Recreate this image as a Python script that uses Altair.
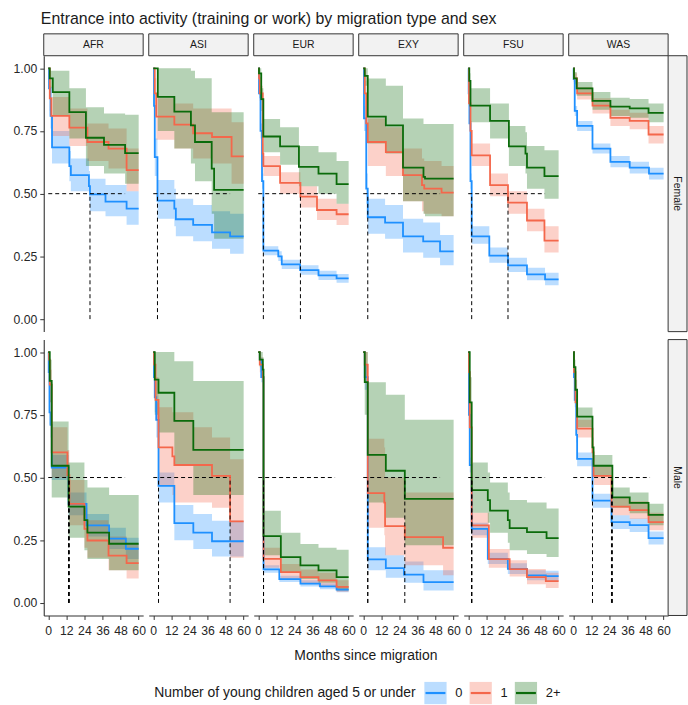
import altair as alt
import pandas as pd

FONT = "Liberation Sans"
TITLE = "Entrance into activity (training or work) by migration type and sex"
X_TITLE = "Months since migration"
LEGEND_TITLE = "Number of young children aged 5 or under"

REGIONS = ["AFR", "ASI", "EUR", "EXY", "FSU", "WAS"]
SEXES = ["Female", "Male"]
GROUPS = ["0", "1", "2+"]
GROUP_COLORS = ["#1E90FF", "#F4674B", "#0B6B0B"]
X_TICKS = [0, 12, 24, 36, 48, 60]
Y_TICKS = [0, 0.25, 0.5, 0.75, 1.0]

# Kaplan-Meier steps: (month, survival, lower CI, upper CI)
AFR_FEMALE = {
    "0": [(0, 1, 1, 1), (0.5, 0.92, 0.88, 0.96), (1.5, 0.81, 0.76, 0.86), (2.5, 0.685, 0.62, 0.75),
          (14, 0.61, 0.55, 0.67), (15, 0.574, 0.51, 0.64), (27, 0.53, 0.47, 0.59), (27.7, 0.497, 0.43, 0.56),
          (38, 0.468, 0.41, 0.535), (52, 0.44, 0.376, 0.51), (60, 0.44, 0.376, 0.51)],
    "1": [(0, 1, 1, 1), (1, 0.88, 0.83, 0.93), (2, 0.81, 0.73, 0.885), (14, 0.763, 0.69, 0.84),
          (26, 0.706, 0.63, 0.78), (40, 0.68, 0.6, 0.76), (52, 0.594, 0.51, 0.68), (60, 0.594, 0.51, 0.68)],
    "2+": [(0, 1, 1, 1), (1, 0.96, 0.92, 0.99), (3, 0.905, 0.81, 0.99), (14, 0.825, 0.72, 0.92),
           (25, 0.723, 0.61, 0.845), (37, 0.695, 0.58, 0.82), (51, 0.662, 0.54, 0.815), (60, 0.662, 0.54, 0.815)],
}
ASI_FEMALE = {
    "0": [(0, 1, 1, 1), (0.5, 0.85, 0.8, 0.9), (1, 0.646, 0.57, 0.72), (2.8, 0.472, 0.4, 0.555),
          (14, 0.44, 0.37, 0.52), (15, 0.398, 0.33, 0.48), (26.5, 0.376, 0.31, 0.455), (39, 0.346, 0.28, 0.43),
          (51, 0.33, 0.26, 0.42), (60, 0.33, 0.26, 0.42)],
    "1": [(0, 1, 1, 1), (1, 0.9, 0.84, 0.96), (2, 0.807, 0.715, 0.88), (14, 0.775, 0.68, 0.86),
          (26.5, 0.741, 0.64, 0.84), (39, 0.726, 0.62, 0.84), (52, 0.649, 0.54, 0.785), (60, 0.649, 0.54, 0.785)],
    "2+": [(0, 1, 1, 1), (3, 0.886, 0.75, 1.0), (14, 0.827, 0.68, 1.0), (25, 0.772, 0.62, 0.99),
           (27.7, 0.706, 0.55, 0.96), (38.8, 0.6, 0.42, 0.825), (40.4, 0.515, 0.32, 0.825), (60, 0.515, 0.32, 0.825)],
}
EUR_FEMALE = {
    "0": [(0, 1, 1, 1), (0.5, 0.9, 0.88, 0.92), (1.5, 0.75, 0.72, 0.78), (2.5, 0.55, 0.52, 0.58),
          (3.4, 0.273, 0.255, 0.29), (13.3, 0.25, 0.232, 0.27), (15.6, 0.218, 0.2, 0.237), (27.8, 0.195, 0.177, 0.215),
          (40, 0.174, 0.156, 0.193), (52, 0.162, 0.145, 0.18), (60, 0.162, 0.145, 0.18)],
    "1": [(0, 1, 1, 1), (0.5, 0.96, 0.94, 0.98), (1, 0.9, 0.87, 0.93), (3, 0.66, 0.62, 0.7),
          (3.4, 0.61, 0.57, 0.65), (14.5, 0.543, 0.5, 0.585), (28, 0.488, 0.445, 0.53), (39, 0.435, 0.395, 0.48),
          (52, 0.418, 0.375, 0.46), (60, 0.418, 0.375, 0.46)],
    "2+": [(0, 1, 1, 1), (0.5, 0.98, 0.96, 1.0), (2, 0.877, 0.83, 0.92), (3.4, 0.728, 0.665, 0.798),
           (14.5, 0.689, 0.615, 0.765), (27, 0.607, 0.53, 0.69), (40, 0.58, 0.5, 0.665), (52, 0.538, 0.46, 0.63),
           (60, 0.538, 0.46, 0.63)],
}
EXY_FEMALE = {
    "0": [(0, 1, 1, 1), (0.5, 0.8, 0.75, 0.85), (2, 0.52, 0.46, 0.58), (3, 0.406, 0.34, 0.48),
          (14.5, 0.385, 0.32, 0.455), (26.4, 0.33, 0.265, 0.4), (39.8, 0.31, 0.245, 0.385), (51, 0.27, 0.215, 0.335),
          (60, 0.27, 0.215, 0.335)],
    "1": [(0, 1, 1, 1), (1, 0.9, 0.85, 0.95), (2, 0.78, 0.7, 0.86), (3, 0.706, 0.61, 0.8),
          (15, 0.666, 0.57, 0.765), (26.4, 0.574, 0.47, 0.68), (39, 0.534, 0.43, 0.64), (40.5, 0.52, 0.42, 0.63),
          (52, 0.504, 0.41, 0.61), (60, 0.504, 0.41, 0.61)],
    "2+": [(0, 1, 1, 1), (1, 0.97, 0.93, 1.0), (3, 0.807, 0.7, 0.959), (15, 0.772, 0.66, 0.93),
           (26.4, 0.604, 0.47, 0.8), (40, 0.567, 0.42, 0.778), (41, 0.56, 0.41, 0.778), (60, 0.56, 0.41, 0.778)],
}
FSU_FEMALE = {
    "0": [(0, 1, 1, 1), (0.3, 0.9, 0.87, 0.93), (0.8, 0.78, 0.75, 0.81), (1.5, 0.55, 0.52, 0.58),
          (2.3, 0.33, 0.3, 0.37), (14, 0.253, 0.225, 0.285), (26.4, 0.214, 0.188, 0.245), (39, 0.178, 0.155, 0.205),
          (51, 0.158, 0.135, 0.185), (60, 0.158, 0.135, 0.185)],
    "1": [(0, 1, 1, 1), (0.5, 0.86, 0.82, 0.9), (1.5, 0.75, 0.71, 0.79), (2.3, 0.653, 0.61, 0.7),
          (14.5, 0.534, 0.49, 0.58), (26.4, 0.464, 0.42, 0.51), (39, 0.393, 0.35, 0.44), (50.6, 0.313, 0.265, 0.37),
          (60, 0.313, 0.265, 0.37)],
    "2+": [(0, 1, 1, 1), (0.7, 0.95, 0.92, 0.98), (1.5, 0.851, 0.785, 0.92), (14.5, 0.79, 0.72, 0.86),
           (27, 0.689, 0.61, 0.77), (38, 0.66, 0.58, 0.745), (39, 0.604, 0.52, 0.69), (50.6, 0.57, 0.48, 0.673),
           (60, 0.57, 0.48, 0.673)],
}
WAS_FEMALE = {
    "0": [(0, 1, 1, 1), (0.3, 0.957, 0.945, 0.97), (1, 0.83, 0.81, 0.85), (2.6, 0.77, 0.75, 0.79),
          (12.8, 0.68, 0.66, 0.7), (24.7, 0.627, 0.605, 0.65), (37.5, 0.604, 0.58, 0.627), (50.3, 0.58, 0.557, 0.603),
          (60, 0.58, 0.557, 0.603)],
    "1": [(0, 1, 1, 1), (0.5, 0.96, 0.94, 0.98), (2.6, 0.9, 0.875, 0.925), (12.8, 0.851, 0.82, 0.88),
          (24.7, 0.802, 0.77, 0.835), (37.5, 0.79, 0.757, 0.823), (50, 0.736, 0.7, 0.77), (60, 0.736, 0.7, 0.77)],
    "2+": [(0, 1, 1, 1), (0.5, 0.96, 0.935, 0.985), (2.3, 0.92, 0.89, 0.945), (12.8, 0.87, 0.835, 0.905),
           (24.7, 0.847, 0.81, 0.882), (37.5, 0.84, 0.803, 0.877), (50, 0.822, 0.785, 0.86), (60, 0.822, 0.785, 0.86)],
}
AFR_MALE = {
    "0": [(0, 1, 1, 1), (0.3, 0.92, 0.88, 0.96), (0.8, 0.76, 0.71, 0.81), (1.5, 0.71, 0.66, 0.76),
          (2.3, 0.54, 0.49, 0.59), (13.5, 0.395, 0.35, 0.44), (25.4, 0.309, 0.265, 0.355), (40.4, 0.256, 0.215, 0.3),
          (51.5, 0.216, 0.175, 0.26), (60, 0.216, 0.175, 0.26)],
    "1": [(0, 1, 1, 1), (0.5, 0.97, 0.93, 1.0), (1, 0.87, 0.8, 0.93), (2.3, 0.6, 0.5, 0.7),
          (12.7, 0.51, 0.41, 0.61), (14, 0.395, 0.31, 0.49), (24, 0.295, 0.22, 0.38), (26, 0.249, 0.18, 0.33),
          (40, 0.189, 0.13, 0.265), (52, 0.159, 0.097, 0.235), (60, 0.159, 0.097, 0.235)],
    "2+": [(0, 1, 1, 1), (1, 0.885, 0.8, 0.97), (2.3, 0.547, 0.42, 0.723), (13.5, 0.384, 0.26, 0.56),
           (24, 0.33, 0.21, 0.49), (26, 0.28, 0.175, 0.46), (40.4, 0.236, 0.13, 0.43), (60, 0.236, 0.13, 0.43)],
}
ASI_MALE = {
    "0": [(0, 1, 1, 1), (0.5, 0.9, 0.85, 0.95), (1, 0.82, 0.76, 0.88), (2, 0.73, 0.66, 0.8),
          (3.5, 0.467, 0.4, 0.52), (14, 0.318, 0.25, 0.39), (26.6, 0.28, 0.215, 0.355), (39, 0.246, 0.185, 0.328),
          (60, 0.246, 0.185, 0.328)],
    "1": [(0, 1, 1, 1), (0.5, 0.95, 0.9, 1.0), (1.5, 0.81, 0.73, 0.9), (3.5, 0.62, 0.47, 0.78),
          (12.7, 0.584, 0.43, 0.76), (14, 0.55, 0.4, 0.76), (26.6, 0.55, 0.4, 0.7), (39, 0.507, 0.38, 0.66),
          (51, 0.325, 0.18, 0.573), (60, 0.325, 0.18, 0.573)],
    "2+": [(0, 1, 1, 1), (1, 0.89, 0.75, 1.0), (3.5, 0.838, 0.68, 1.0), (14, 0.726, 0.55, 0.964),
           (26.6, 0.61, 0.43, 0.885), (60, 0.61, 0.43, 0.885)],
}
EUR_MALE = {
    "0": [(0, 1, 1, 1), (1, 0.97, 0.96, 0.98), (2, 0.9, 0.88, 0.92), (3.5, 0.134, 0.12, 0.15),
          (14, 0.095, 0.083, 0.108), (28, 0.077, 0.066, 0.09), (41, 0.066, 0.055, 0.078), (52, 0.053, 0.043, 0.064),
          (60, 0.053, 0.043, 0.064)],
    "1": [(0, 1, 1, 1), (1, 0.95, 0.92, 0.98), (3, 0.9, 0.86, 0.94), (3.5, 0.176, 0.14, 0.22),
          (15, 0.123, 0.095, 0.155), (28, 0.103, 0.078, 0.133), (40, 0.09, 0.066, 0.12), (52, 0.064, 0.045, 0.09),
          (60, 0.064, 0.045, 0.09)],
    "2+": [(0, 1, 1, 1), (1, 0.97, 0.94, 1.0), (3, 0.93, 0.88, 0.98), (3.5, 0.266, 0.19, 0.368),
           (15, 0.183, 0.12, 0.28), (28, 0.15, 0.095, 0.235), (40, 0.13, 0.08, 0.22), (52, 0.103, 0.05, 0.212),
           (60, 0.103, 0.05, 0.212)],
}
EXY_MALE = {
    "0": [(0, 1, 1, 1), (1, 0.9, 0.85, 0.95), (3, 0.174, 0.13, 0.222), (15, 0.139, 0.1, 0.19),
          (27, 0.113, 0.08, 0.165), (40, 0.083, 0.05, 0.13), (60, 0.083, 0.05, 0.13)],
    "1": [(0, 1, 1, 1), (1, 0.95, 0.9, 1.0), (3, 0.438, 0.3, 0.655), (14, 0.4, 0.27, 0.62),
          (14.5, 0.306, 0.19, 0.5), (27.6, 0.262, 0.15, 0.44), (53, 0.22, 0.11, 0.44), (60, 0.22, 0.11, 0.44)],
    "2+": [(0, 1, 1, 1), (1, 0.88, 0.75, 1.0), (3, 0.59, 0.4, 0.88), (15, 0.527, 0.34, 0.83),
           (27.6, 0.415, 0.23, 0.73), (60, 0.415, 0.23, 0.73)],
}
FSU_MALE = {
    "0": [(0, 1, 1, 1), (0.5, 0.75, 0.72, 0.78), (1, 0.55, 0.52, 0.58), (2.3, 0.295, 0.27, 0.32),
          (13, 0.176, 0.155, 0.2), (26.3, 0.136, 0.115, 0.158), (39, 0.11, 0.09, 0.13), (51.5, 0.107, 0.087, 0.128),
          (60, 0.107, 0.087, 0.128)],
    "1": [(0, 1, 1, 1), (0.5, 0.92, 0.88, 0.96), (1, 0.7, 0.65, 0.75), (2.3, 0.309, 0.26, 0.36),
          (13.7, 0.175, 0.14, 0.215), (27.5, 0.135, 0.105, 0.17), (39, 0.103, 0.075, 0.135), (51.5, 0.087, 0.06, 0.12),
          (60, 0.087, 0.06, 0.12)],
    "2+": [(0, 1, 1, 1), (1, 0.8, 0.7, 0.9), (2.3, 0.45, 0.36, 0.56), (13, 0.41, 0.32, 0.52),
           (14.5, 0.368, 0.28, 0.48), (26.3, 0.33, 0.24, 0.44), (27.5, 0.298, 0.21, 0.41), (39, 0.282, 0.195, 0.4),
           (52, 0.258, 0.183, 0.377), (60, 0.258, 0.183, 0.377)],
}
WAS_MALE = {
    "0": [(0, 1, 1, 1), (0.5, 0.9, 0.87, 0.93), (1, 0.81, 0.78, 0.84), (2, 0.67, 0.64, 0.7),
          (2.6, 0.574, 0.545, 0.6), (12.8, 0.408, 0.38, 0.435), (25.4, 0.322, 0.295, 0.35), (37.5, 0.31, 0.283, 0.337),
          (50, 0.258, 0.233, 0.285), (60, 0.258, 0.233, 0.285)],
    "1": [(0, 1, 1, 1), (0.5, 0.92, 0.89, 0.95), (1.5, 0.8, 0.77, 0.83), (2.6, 0.695, 0.66, 0.73),
          (12.8, 0.6, 0.565, 0.635), (13.5, 0.507, 0.47, 0.545), (25.4, 0.384, 0.35, 0.42), (37.5, 0.37, 0.335, 0.405),
          (50, 0.322, 0.29, 0.36), (60, 0.322, 0.29, 0.36)],
    "2+": [(0, 1, 1, 1), (0.5, 0.94, 0.91, 0.97), (1.5, 0.85, 0.81, 0.89), (2.6, 0.743, 0.7, 0.779),
           (12.8, 0.62, 0.58, 0.66), (13.5, 0.547, 0.505, 0.59), (26, 0.421, 0.38, 0.46), (37.5, 0.399, 0.358, 0.44),
           (50, 0.351, 0.31, 0.395), (60, 0.351, 0.31, 0.395)],
}

PANELS = {
    ("AFR", "Female"): AFR_FEMALE, ("ASI", "Female"): ASI_FEMALE, ("EUR", "Female"): EUR_FEMALE,
    ("EXY", "Female"): EXY_FEMALE, ("FSU", "Female"): FSU_FEMALE, ("WAS", "Female"): WAS_FEMALE,
    ("AFR", "Male"): AFR_MALE, ("ASI", "Male"): ASI_MALE, ("EUR", "Male"): EUR_MALE,
    ("EXY", "Male"): EXY_MALE, ("FSU", "Male"): FSU_MALE, ("WAS", "Male"): WAS_MALE,
}

# ---------------------------------------------------------------- build table
rows = []
medians = {}
for (region, sex), panel in PANELS.items():
    meds = []
    for grp in GROUPS:
        for t, s, lo, hi in panel[grp]:
            rows.append(dict(kind="curve", region=region, sex=sex, grp=grp, t=t, s=s, lo=lo, hi=hi))
        below = [t for t, s, lo, hi in panel[grp] if s <= 0.5]
        if below:
            meds.append(min(below))
    medians[(region, sex)] = meds
max_median = max(m for v in medians.values() for m in v)
for (region, sex), meds in medians.items():
    for m in meds:
        rows.append(dict(kind="vline", region=region, sex=sex, t=m))
    if meds:
        rows.append(dict(kind="hline", region=region, sex=sex, t=0, t2=max_median))
for region in REGIONS:
    rows.append(dict(kind="strip_top", region=region, sex="Female"))
for sex in SEXES:
    rows.append(dict(kind="strip_right", region="WAS", sex=sex))
df = pd.DataFrame(rows)

# ---------------------------------------------------------------- chart
W, H = 100, 277.5
STRIP_H = 22
RSTRIP_W = 17

x_scale = alt.Scale(domain=[-3, 63], nice=False, zero=False)
y_scale = alt.Scale(domain=[-0.05, 1.05], nice=False, zero=False)
x_axis = alt.Axis(values=X_TICKS, title=None, grid=False, labelOverlap=False, labelFlush=False,
                  labelPadding=5)
y_axis = alt.Axis(values=Y_TICKS, format=".2f", title=None, grid=False, labelOverlap=False, labelFlush=False)
color = alt.Color("grp:N", scale=alt.Scale(domain=GROUPS, range=GROUP_COLORS), legend=None)

X = alt.X("t:Q", scale=x_scale, axis=x_axis)

band = alt.Chart().mark_area(interpolate="step-after", opacity=0.3).encode(
    x=X, y=alt.Y("lo:Q", scale=y_scale, axis=y_axis), y2="hi:Q", color=color
).transform_filter(alt.datum.kind == "curve")

line = alt.Chart().mark_line(interpolate="step-after", strokeWidth=1.8).encode(
    x=X, y=alt.Y("s:Q", scale=y_scale, axis=y_axis), color=color
).transform_filter(alt.datum.kind == "curve")

vline = alt.Chart().mark_rule(color="black", strokeDash=[4, 3], strokeWidth=1).encode(
    x=X, y=alt.datum(0), y2=alt.datum(0.5)
).transform_filter(alt.datum.kind == "vline")

hline = alt.Chart().mark_rule(color="black", strokeDash=[4, 3], strokeWidth=1).encode(
    x=X, x2="t2:Q", y=alt.datum(0.5)
).transform_filter(alt.datum.kind == "hline")

strip_rect = alt.Chart().mark_rect(fill="#F2F2F2", stroke="#333333", strokeWidth=1).encode(
    x=alt.value(0), x2=alt.value(W), y=alt.value(-STRIP_H), y2=alt.value(0)
).transform_filter(alt.datum.kind == "strip_top")

strip_text = alt.Chart().mark_text(font=FONT, fontSize=10.5, color="#1A1A1A", baseline="middle").encode(
    text="region:N", x=alt.value(W / 2), y=alt.value(-STRIP_H / 2)
).transform_filter(alt.datum.kind == "strip_top")

rstrip_rect = alt.Chart().mark_rect(fill="#F2F2F2", stroke="#333333", strokeWidth=1).encode(
    x=alt.value(W), x2=alt.value(W + RSTRIP_W + 2), y=alt.value(0), y2=alt.value(H)
).transform_filter(alt.datum.kind == "strip_right")

rstrip_text = alt.Chart().mark_text(font=FONT, fontSize=10.5, color="#1A1A1A", angle=90,
                                    baseline="middle").encode(
    text="sex:N", x=alt.value(W + 9), y=alt.value(H / 2)
).transform_filter(alt.datum.kind == "strip_right")

panels = alt.layer(band, line, vline, hline, strip_rect, strip_text, rstrip_rect, rstrip_text,
                   data=df).properties(width=W, height=H)

facet = panels.facet(
    column=alt.Column("region:N", sort=REGIONS,
                      header=alt.Header(labels=False, title=X_TITLE, titleOrient="bottom",
                                        titleFont=FONT, titleFontSize=14, titleFontWeight="normal",
                                        titleColor="#1A1A1A", titlePadding=2)),
    row=alt.Row("sex:N", sort=SEXES, header=alt.Header(labels=False, title=None)),
    spacing={"row": 7.5, "column": 5.6},
    bounds="flush",
)

# ---------------------------------------------------------------- legend
LEG_W = 640
leg_df = pd.DataFrame({"grp": GROUPS})
lx = alt.X("grp:N", sort=GROUPS, axis=None, scale=alt.Scale(domain=GROUPS, range=[394, 485], padding=0))
leg_color = alt.Color("grp:N", scale=alt.Scale(domain=GROUPS, range=GROUP_COLORS), legend=None)
leg_sq = alt.Chart(leg_df).mark_square(size=500, opacity=0.3).encode(x=lx, color=leg_color)
leg_ln = alt.Chart(leg_df).mark_point(shape="stroke", size=400, strokeWidth=2.2, filled=False,
                                      opacity=1).encode(x=lx, color=leg_color)
leg_lab = alt.Chart(leg_df).mark_text(font=FONT, fontSize=13, align="left", dx=20, color="#1A1A1A").encode(
    x=lx, text="grp:N")
leg_title = alt.Chart(leg_df).mark_text(font=FONT, fontSize=14, align="right", color="#1A1A1A").encode(
    x=alt.value(374), text=alt.value(LEGEND_TITLE)
).transform_filter(alt.datum.grp == "0")
legend = alt.layer(leg_sq, leg_ln, leg_lab, leg_title).properties(width=LEG_W, height=24)

chart = alt.vconcat(facet, legend, spacing=18).properties(
    title=alt.TitleParams(TITLE, anchor="start", font=FONT, fontSize=16, fontWeight="normal",
                          color="#1A1A1A", dx=28, offset=6),
    padding={"left": 13, "top": 9, "right": 0, "bottom": 0},
).configure_view(strokeWidth=0).configure_axis(
    labelFont=FONT, labelFontSize=12.3, labelColor="#262626", domainColor="#333333",
    tickColor="#333333", tickSize=4, labelPadding=3, domainWidth=1.1,
)

chart.save("out.html", embed_options={"renderer": "svg", "actions": False})
